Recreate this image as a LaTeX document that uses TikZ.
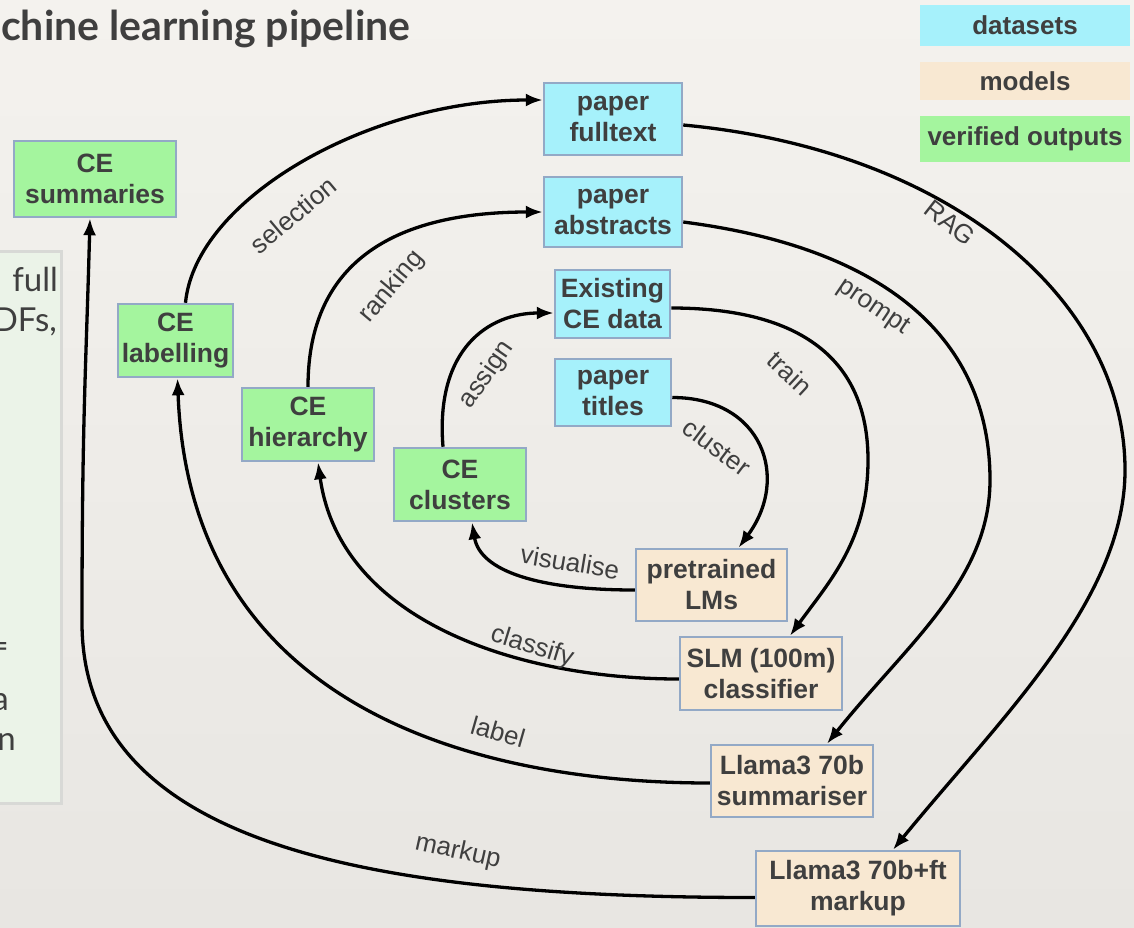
\documentclass[tikz,border=0pt]{standalone}
\usepackage{fontspec}
\setmainfont{Liberation Sans}
\newfontfamily\humanist{Lato}
\usetikzlibrary{arrows.meta,calc}

\definecolor{paper}{HTML}{F4F2EE}
\definecolor{paperlow}{HTML}{E8E6E2}
\definecolor{ink}{HTML}{3F3F3F}
\definecolor{edge}{HTML}{93A9C6}
\definecolor{datafill}{HTML}{A6F1FB}
\definecolor{modelfill}{HTML}{F8E8D2}
\definecolor{outfill}{HTML}{A4F59E}
\definecolor{panelfill}{HTML}{EBF3E8}
\definecolor{panelline}{HTML}{D8D9D6}

\tikzset{
  box/.style={draw=edge, line width=2.5pt, text=ink, align=center, inner sep=0pt,
    font=\bfseries\fontsize{26.5}{31}\selectfont},
  databox/.style={box, fill=datafill},
  modelbox/.style={box, fill=modelfill},
  outbox/.style={box, fill=outfill},
  legendbox/.style={inner sep=0pt, text=ink, minimum width=210pt,
    font=\bfseries\fontsize{26}{30}\selectfont},
  flow/.style={line width=3.3pt, -{Latex[length=17pt,width=13pt]}},
  lbl/.style={text=ink, inner sep=0pt, font=\fontsize{26}{30}\selectfont},
  notetxt/.style={text=ink, inner sep=0pt, font=\humanist\fontsize{33}{40}\selectfont},
}

\begin{document}
\begin{tikzpicture}[x=1pt, y=-1pt]
  \useasboundingbox (0,0) rectangle (1134,927);
  \shade[top color=paper, bottom color=paperlow] (0,0) rectangle (1134,927);

  % title
  \node[anchor=base west, text=ink, inner sep=0pt,
        font=\humanist\bfseries\fontsize{41}{44}\selectfont] (title) at (1,40) {chine learning pipeline};

  % side notes panel
  \draw[draw=panelline, fill=panelfill, line width=3pt] (-10,251) rectangle (61,803);
  \node[notetxt, anchor=base east] (note1) at (58,291) {full};
  \node[notetxt, anchor=base east] (note2) at (57,331) {DFs,};
  \node[notetxt, anchor=base east] (note3) at (9,657) {=};
  \node[notetxt, anchor=base east] (note4) at (9,710) {a};
  \node[notetxt, anchor=base east] (note5) at (16,750) {n};

  % legend
  \node[legendbox, fill=datafill, minimum height=41pt] (legdata) at (1025,25.5) {datasets};
  \node[legendbox, fill=modelfill, minimum height=38pt] (legmodel) at (1025,81) {models};
  \node[legendbox, fill=outfill, minimum height=46pt] (legout) at (1025,139) {verified outputs};

  % datasets
  \node[databox, minimum width=138pt, minimum height=72pt] (full) at (613,119) {paper\\fulltext};
  \node[databox, minimum width=138pt, minimum height=70pt] (abs) at (613,212) {paper\\abstracts};
  \node[databox, minimum width=115pt, minimum height=68pt] (exist) at (612.5,304) {Existing\\CE data};
  \node[databox, minimum width=116pt, minimum height=67pt] (titles) at (613,392.5) {paper\\titles};

  % models
  \node[modelbox, minimum width=151pt, minimum height=72pt] (plm) at (711.5,585) {pretrained\\LMs};
  \node[modelbox, minimum width=162pt, minimum height=73pt] (slm) at (761,673.5) {SLM (100m)\\classifier};
  \node[modelbox, minimum width=162pt, minimum height=72pt] (summ) at (792,781) {Llama3 70b\\summariser};
  \node[modelbox, minimum width=204pt, minimum height=75pt] (mark) at (858,888.5) {Llama3 70b+ft\\markup};

  % verified outputs
  \node[outbox, minimum width=132pt, minimum height=73pt] (clu) at (460,484.5) {CE\\clusters};
  \node[outbox, minimum width=132pt, minimum height=73pt] (hier) at (308,424.5) {CE\\hierarchy};
  \node[outbox, minimum width=115pt, minimum height=73pt] (lab) at (175.5,340.5) {CE\\labelling};
  \node[outbox, minimum width=162pt, minimum height=76pt] (csum) at (95,179) {CE\\summaries};

  % bends of the long loops
  \coordinate (trainbend) at (868,460);
  \coordinate (promptbend) at (990,480);
  \coordinate (ragbend) at (1125,470);
  \coordinate (markbend) at (82,620);

  % inner loop
  \draw[flow] ($(titles.east)+(0,5)$) .. controls +(90,0) and +(52,-70) .. ($(plm.north)+(27,0)$);
  \draw[flow] ($(plm.west)+(0,5)$) .. controls +(-96,0) and +(8,49) .. ($(clu.south)+(12,0)$);
  \draw[flow] ($(clu.north)+(-17,0)$) .. controls +(-8,-98) and +(-65,0) .. ($(exist.west)+(0,9)$);

  % second loop
  \draw[flow] ($(exist.east)+(0,4)$) .. controls +(130,0) and +(0,-100) .. (trainbend)
              .. controls +(0,80) and +(40,-55) .. ($(slm.north)+(29,0)$);
  \draw[flow] ($(slm.west)+(0,5.5)$) .. controls +(-160,0) and +(22,159) .. ($(hier.south)+(10,0)$);
  \draw[flow] (hier.north) .. controls +(0,-128) and +(-144,0) .. (abs.west);

  % third loop
  \draw[flow] ($(abs.east)+(0,10)$) .. controls +(218,28) and +(0,-130) .. (promptbend)
              .. controls +(0,100) and +(80,-100) .. ($(summ.north)+(35,0)$);
  \draw[flow] ($(summ.west)+(0,2)$) .. controls +(-211,0) and +(12.5,343) .. ($(lab.south)+(2,0)$);
  \draw[flow] ($(lab.north)+(10,0)$) .. controls +(10,-104) and +(-174,0) .. ($(full.west)+(0,-19)$);

  % outer loop
  \draw[flow] ($(full.east)+(0,6)$) .. controls +(268,25) and +(0,-170) .. (ragbend)
              .. controls +(0,130) and +(107,-131) .. ($(mark.north)+(35,0)$);
  \draw[flow] ($(mark.west)+(0,9)$) .. controls +(-400,0) and +(-2,220) .. (markbend)
              .. controls +(0,-200) and +(-4,150) .. ($(csum.south)+(-5,0)$);

  % connector labels
  \node[lbl, rotate=-37] (tcluster) at (717,447) {cluster};
  \node[lbl, rotate=-9.5] (tvis) at (570,562) {visualise};
  \node[lbl, rotate=55] (tassign) at (487,375) {assign};
  \node[lbl, rotate=-43] (ttrain) at (790,373) {train};
  \node[lbl, rotate=-17] (tclass) at (532,647) {classify};
  \node[lbl, rotate=50] (trank) at (392,287) {ranking};
  \node[lbl, rotate=-34] (tprompt) at (873,307) {prompt};
  \node[lbl, rotate=-16] (tlabel) at (498,732) {label};
  \node[lbl, rotate=40] (tsel) at (293,215) {selection};
  \node[lbl, rotate=-38] (trag) at (950,223) {RAG};
  \node[lbl, rotate=-12.5] (tmarkup) at (458,852) {markup};
\end{tikzpicture}
\end{document}
